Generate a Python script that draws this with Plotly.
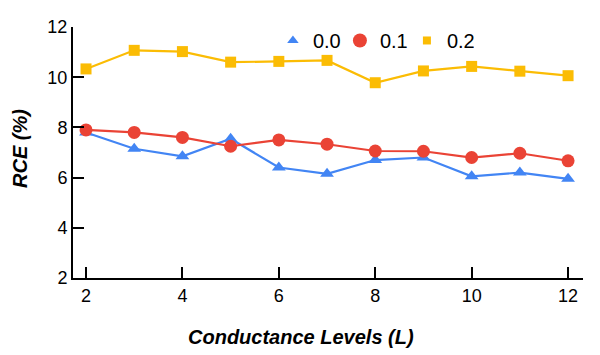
import plotly.graph_objects as go

levels = [2, 3, 4, 5, 6, 7, 8, 9, 10, 11, 12]
rce_00 = [7.8, 7.15, 6.85, 7.55, 6.4, 6.15, 6.7, 6.8, 6.05, 6.2, 5.95]
rce_01 = [7.9, 7.8, 7.6, 7.25, 7.5, 7.33, 7.06, 7.05, 6.8, 6.97, 6.67]
rce_02 = [10.33, 11.07, 11.02, 10.6, 10.63, 10.67, 9.78, 10.25, 10.43, 10.24, 10.06]

# name, values, colour, symbol, marker size, legend marker size
series = [
    ("0.0", rce_00, "#4285F4", "triangle-up", 12, 10),
    ("0.1", rce_01, "#EA4335", "circle", 13, 14),
    ("0.2", rce_02, "#FBBC04", "square", 11, 8),
]

fig = go.Figure()

for name, vals, color, sym, size, lsize in series:
    fig.add_trace(go.Scatter(
        x=levels, y=vals, mode="lines+markers", name=name,
        line=dict(color=color, width=2.2),
        marker=dict(color=color, symbol=sym, size=size),
        showlegend=False,
    ))

# legend shows markers only, so use marker-only legend entries
for name, vals, color, sym, size, lsize in series:
    fig.add_trace(go.Scatter(
        x=[None], y=[None], mode="markers", name=name,
        marker=dict(color=color, symbol=sym, size=lsize),
    ))

# page body has an 8px margin, so the figure is sized to fit the window
fig.update_layout(
    width=592, height=347,
    margin=dict(l=65, r=17, t=19, b=77, autoexpand=False),
    plot_bgcolor="white", paper_bgcolor="white",
    font=dict(family="Liberation Sans, Arial", size=18, color="black"),
    legend=dict(
        orientation="h", x=0.392, y=1.024, xanchor="left", yanchor="top",
        font=dict(size=20), bgcolor="rgba(0,0,0,0)",
        itemwidth=30, tracegroupgap=0, entrywidth=22,
    ),
    xaxis=dict(
        range=[1.73, 12.31], tickvals=[2, 4, 6, 8, 10, 12],
        ticks="inside", ticklen=11, tickwidth=2, tickcolor="black",
        showline=True, linecolor="black", linewidth=2,
        showgrid=False, zeroline=False, automargin=False,
    ),
    yaxis=dict(
        range=[2, 12], tickvals=[2, 4, 6, 8, 10, 12],
        ticks="inside", ticklen=11, tickwidth=2, tickcolor="black",
        showline=True, linecolor="black", linewidth=2,
        showgrid=False, zeroline=False, automargin=False,
    ),
    annotations=[
        dict(text="<b><i>Conductance Levels (L)</i></b>", xref="paper", yref="paper",
             x=0.447, y=-0.235, xanchor="center", yanchor="middle",
             showarrow=False, font=dict(size=20)),
        dict(text="<b><i>RCE (%)</i></b>", xref="paper", yref="paper",
             x=-0.104, y=0.518, xanchor="center", yanchor="middle", textangle=-90,
             showarrow=False, font=dict(size=20)),
    ],
)

fig.write_html("out.html")
